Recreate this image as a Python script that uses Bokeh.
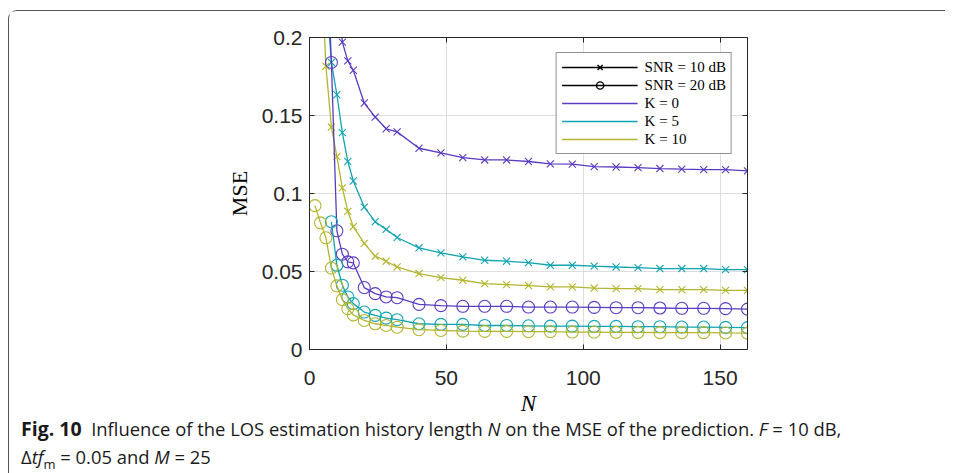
import math
from bokeh.plotting import figure
from bokeh.models import (Range1d, FixedTicker, LinearAxis, Legend, LegendItem,
                          NumeralTickFormatter, Div, ColumnDataSource, CustomJSTickFormatter)
from bokeh.layouts import column
from bokeh.embed import file_html
from bokeh.resources import INLINE

nan = float("nan")

# ---------------- data ----------------
N = [2, 4, 6, 8, 10, 12, 14, 16, 20, 24, 28, 32, 40, 48, 56, 64, 72, 80, 88, 96,
     104, 112, 120, 128, 136, 144, 152, 160]

mse_k0_snr10 = [0.50, 0.42, 0.35, 0.29, 0.235, 0.197, 0.185, 0.179, 0.158, 0.149, 0.1415, 0.1395,
                0.129, 0.126, 0.123, 0.1215, 0.1215, 0.1205, 0.119, 0.1188, 0.1172, 0.117, 0.1166,
                0.116, 0.1156, 0.1153, 0.1153, 0.1145]
mse_k5_snr10 = [0.36, 0.29, 0.23, 0.184, 0.1633, 0.139, 0.1205, 0.108, 0.0913, 0.0819, 0.077, 0.0718,
                0.0652, 0.0619, 0.0594, 0.0572, 0.0566, 0.0557, 0.054, 0.054, 0.0534, 0.0529, 0.0525,
                0.0519, 0.0519, 0.0519, 0.0512, 0.0512]
mse_k10_snr10 = [0.33, 0.255, 0.1816, 0.1426, 0.1237, 0.1036, 0.0886, 0.0787, 0.068, 0.0598, 0.0566,
                 0.0529, 0.0487, 0.0461, 0.0444, 0.0422, 0.0416, 0.041, 0.0401, 0.0401, 0.0394, 0.039,
                 0.039, 0.0384, 0.0384, 0.0384, 0.0379, 0.0379]
mse_k0_snr20 = [0.45, 0.36, 0.27, 0.184, 0.0761, 0.0611, 0.0562, 0.0555, 0.0397, 0.0358, 0.0337,
                0.0332, 0.0289, 0.0281, 0.0277, 0.0277, 0.0277, 0.0272, 0.0272, 0.0272, 0.027, 0.0268,
                0.0268, 0.0266, 0.0264, 0.0264, 0.0262, 0.0259]
mse_k5_snr20 = [nan, nan, nan, 0.0819, 0.054, 0.0412, 0.0337, 0.0294, 0.024, 0.0219, 0.0201, 0.0191,
                0.0165, 0.0161, 0.0161, 0.0154, 0.0154, 0.0152, 0.015, 0.015, 0.0148, 0.0148, 0.0146,
                0.0146, 0.0144, 0.0144, 0.0142, 0.014]
mse_k10_snr20 = [0.0922, 0.0812, 0.0716, 0.0522, 0.0408, 0.032, 0.0262, 0.0222, 0.0186, 0.0165, 0.0154,
                 0.0143, 0.0127, 0.0122, 0.0118, 0.0116, 0.0116, 0.0114, 0.0114, 0.0112, 0.0112, 0.011,
                 0.011, 0.0108, 0.0108, 0.0108, 0.0106, 0.0105]

x_ticks = [0, 50, 100, 150]
y_ticks = [0, 0.05, 0.1, 0.15, 0.2]

legend_labels = ["SNR = 10 dB", "SNR = 20 dB", "K = 0", "K = 5", "K = 10"]

C_K0 = "#5a3cc2"
C_K5 = "#12a3b0"
C_K10 = "#b3b52e"
AX = "#262626"

# ---------------- figure ----------------
p = figure(frame_width=438, frame_height=312,
           min_border_left=300, min_border_right=198, min_border_top=26, min_border_bottom=64,
           x_range=Range1d(0, 160), y_range=Range1d(0, 0.2),
           output_backend="svg", toolbar_location=None, tools="",
           background_fill_color="white", border_fill_color="white")
p.outline_line_color = None

bottom_ax = p.below[0]
left_ax = p.left[0]
bottom_ax.ticker = FixedTicker(ticks=x_ticks)
left_ax.ticker = FixedTicker(ticks=y_ticks)
left_ax.formatter = NumeralTickFormatter(format="0.[00]")

blank = CustomJSTickFormatter(code="return ''")
top_ax = LinearAxis(ticker=FixedTicker(ticks=x_ticks), formatter=blank)
right_ax = LinearAxis(ticker=FixedTicker(ticks=y_ticks), formatter=blank)
p.add_layout(top_ax, "above")
p.add_layout(right_ax, "right")

for ax in [bottom_ax, left_ax, top_ax, right_ax]:
    ax.axis_line_color = AX
    ax.axis_line_width = 1
    ax.major_tick_line_color = AX
    ax.major_tick_in = 5
    ax.major_tick_out = 0
    ax.minor_tick_in = 0
    ax.minor_tick_out = 0
    ax.major_label_text_color = "#262626"
    ax.major_label_text_font = "Liberation Sans"
    ax.major_label_text_font_size = "21px"
top_ax.major_label_standoff = 0
right_ax.major_label_standoff = 0

bottom_ax.major_label_standoff = 21
left_ax.major_label_standoff = 7
bottom_ax.axis_label = "N"
bottom_ax.axis_label_text_font = "Liberation Serif"
bottom_ax.axis_label_text_font_style = "italic"
bottom_ax.axis_label_text_font_size = "23px"
bottom_ax.axis_label_text_color = "black"
bottom_ax.axis_label_standoff = 3
left_ax.axis_label = "MSE"
left_ax.axis_label_text_font = "Liberation Serif"
left_ax.axis_label_text_font_style = "normal"
left_ax.axis_label_text_font_size = "22px"
left_ax.axis_label_text_color = "black"
left_ax.axis_label_standoff = 7

p.xgrid.ticker = FixedTicker(ticks=x_ticks)
p.ygrid.ticker = FixedTicker(ticks=y_ticks)
p.grid.grid_line_color = "#dedede"
p.grid.grid_line_width = 1

series = [
    (mse_k0_snr10, C_K0, "x"),
    (mse_k5_snr10, C_K5, "x"),
    (mse_k10_snr10, C_K10, "x"),
    (mse_k0_snr20, C_K0, "circle"),
    (mse_k5_snr20, C_K5, "circle"),
    (mse_k10_snr20, C_K10, "circle"),
]
line_r = []
for vals, col, mk in series:
    src = ColumnDataSource(dict(x=N, y=vals))
    lr = p.line("x", "y", source=src, line_color=col, line_width=1.3)
    size = 10 if mk == "x" else 12
    p.scatter("x", "y", source=src, marker=mk, size=size, line_color=col,
              fill_color=None, line_width=1.1)
    line_r.append(lr)

# legend proxies (black marker style entries)
dsrc = ColumnDataSource(dict(x=[nan], y=[nan]))
l10 = p.line("x", "y", source=dsrc, line_color="black", line_width=1.3)
m10 = p.scatter("x", "y", source=dsrc, marker="x", size=14, line_color="black", line_width=1.4)
l20 = p.line("x", "y", source=dsrc, line_color="black", line_width=1.3)
m20 = p.scatter("x", "y", source=dsrc, marker="circle", size=15, line_color="black",
                fill_color=None, line_width=1.4)

legend = Legend(items=[
    LegendItem(label=legend_labels[0], renderers=[l10, m10]),
    LegendItem(label=legend_labels[1], renderers=[l20, m20]),
    LegendItem(label=legend_labels[2], renderers=[line_r[0]]),
    LegendItem(label=legend_labels[3], renderers=[line_r[1]]),
    LegendItem(label=legend_labels[4], renderers=[line_r[2]]),
], location="top_right")
legend.margin = 15
legend.padding = 5
legend.spacing = 0
legend.glyph_width = 76
legend.glyph_height = 18
legend.label_height = 18
legend.label_standoff = 7
legend.label_text_font = "Liberation Serif"
legend.label_text_font_size = "15px"
legend.label_text_color = "black"
legend.border_line_color = AX
legend.border_line_width = 1.2
legend.background_fill_color = "white"
legend.background_fill_alpha = 1
p.add_layout(legend, "center")

caption = Div(
    text=('<b style="font-size:19.5px">Fig. 10</b>&nbsp; Influence of the LOS estimation history length '
          '<i>N</i> on the MSE of the prediction. <i>F</i> = 10 dB,<br>'
          '&Delta;<i>tf</i><sub style="font-size:13px">m</sub> = 0.05 and <i>M</i> = 25'),
    width=920, height=56,
    styles={"font-family": "Open Sans", "font-size": "18.4px", "line-height": "28px",
            "color": "#1a1a1a", "padding-left": "7px", "margin-top": "-3px"})

layout = column(p, caption,
                styles={"border-top": "1.5px solid #555", "border-left": "1.5px solid #555",
                        "border-top-left-radius": "9px", "margin-top": "10px",
                        "margin-left": "8px"})

open("out.html", "w").write(file_html(layout, INLINE))
